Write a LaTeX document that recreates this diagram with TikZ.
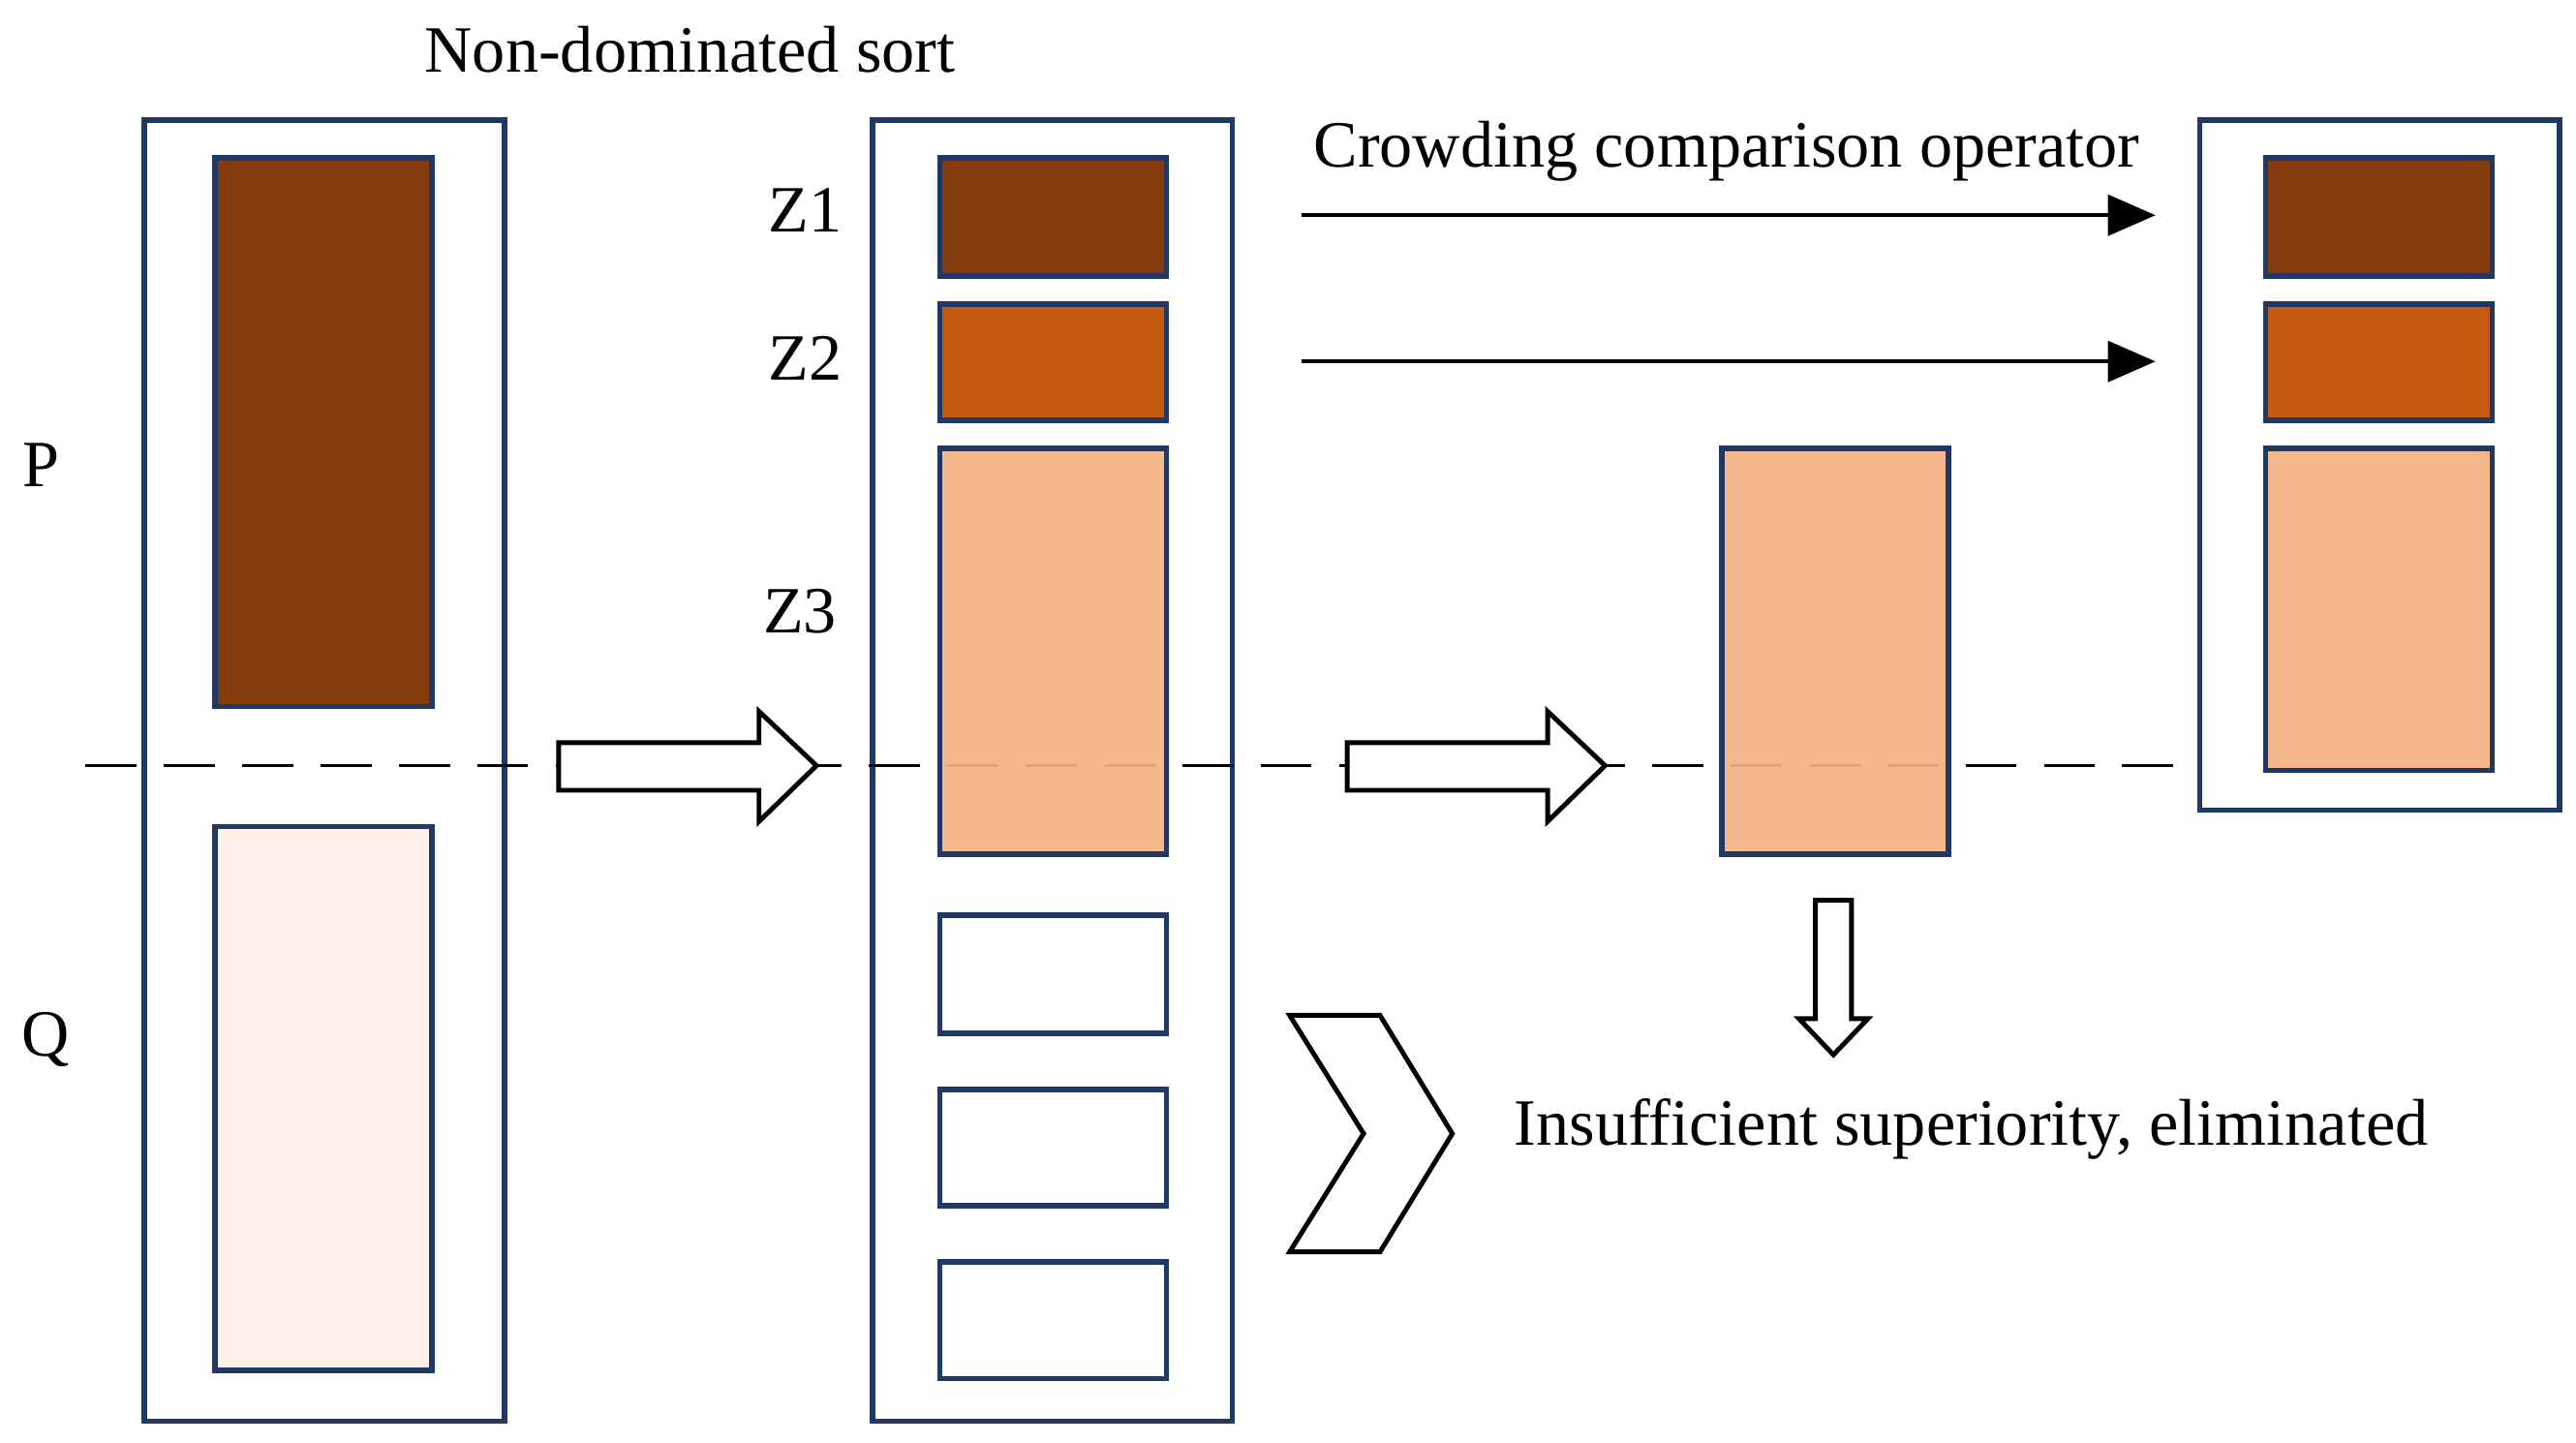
\documentclass[tikz,border=0pt]{standalone}
\usepackage{fontspec}
\setmainfont{Liberation Serif}
\usetikzlibrary{calc,arrows.meta}
\definecolor{navy}{HTML}{203864}
\definecolor{zdark}{HTML}{843C0C}
\definecolor{zmid}{HTML}{C55A11}
\definecolor{zlight}{HTML}{F4B183}
\definecolor{zpale}{HTML}{FDF0E8}
\tikzset{
  box/.style={draw=navy, line width=1.6pt},
  lbl/.style={font=\fontsize{19.4}{22}\selectfont, inner sep=0pt},
  blk/.style={draw=black, fill=white, line width=1.4pt, line join=miter},
}
\begin{document}
\begin{tikzpicture}[x=0.01696cm,y=-0.01696cm]
\useasboundingbox (0,0) rectangle (1568,878);
% outer boxes
\draw[box] (88,73) rectangle (307,865);
\draw[box] (531,73) rectangle (750,865);
\draw[box, fill=white] (1339,73) rectangle (1558,493);
% dashed divider
\draw[dashed, dash pattern=on 15pt off 8pt, line width=0.9pt] (52,466) -- (1339,466);
% population blocks
\draw[box, fill=zdark] (131,96) rectangle (263,430);
\draw[box, fill=zpale] (131,503) rectangle (263,834);
\draw[box, fill=zdark] (572,96) rectangle (710,168);
\draw[box, fill=zmid] (572,185) rectangle (710,256);
\draw[box, fill=zlight, fill opacity=0.93] (572,273) rectangle (710,520);
\draw[box] (572,557) rectangle (710,629);
\draw[box] (572,663) rectangle (710,734);
\draw[box] (572,768) rectangle (710,839);
\draw[box, fill=zlight, fill opacity=0.93] (1048,273) rectangle (1186,520);
\draw[box, fill=zdark] (1379,96) rectangle (1517,168);
\draw[box, fill=zmid] (1379,185) rectangle (1517,256);
\draw[box, fill=zlight, fill opacity=0.93] (1379,273) rectangle (1517,469);
% block arrows
\foreach \x in {340,820}
  \draw[blk] (\x,452) -- (\x+122,452) -- (\x+122,433) -- (\x+157,466) -- (\x+122,500) -- (\x+122,481) -- (\x,481) -- cycle;
\draw[blk] (1105,548) -- (1127,548) -- (1127,620) -- (1137,620) -- (1116,642) -- (1095,620) -- (1105,620) -- cycle;
\draw[blk] (785,618) -- (840,618) -- (884,690) -- (840,762) -- (785,762) -- (830,690) -- cycle;
% thin arrows
\coordinate (a1) at (792,131); \coordinate (b1) at (1312,131);
\coordinate (a2) at (792,220); \coordinate (b2) at (1312,220);
\draw[-{Triangle[length=14pt,width=12pt]}, line width=1pt] (a1) -- (b1);
\draw[-{Triangle[length=14pt,width=12pt]}, line width=1pt] (a2) -- (b2);
% labels
\node[lbl] (sort) at (420,30) {Non-dominated sort};
\node[lbl] (crowd) at (1051,92) {Crowding comparison operator};
\node[lbl] (z1) at (490,128) {Z1};
\node[lbl] (z2) at (490,218) {Z2};
\node[lbl] (z3) at (487,372) {Z3};
\node[lbl] (p) at (25,283) {P};
\node[lbl] (q) at (28,633) {Q};
\node[lbl] (elim) at (1200,687) {Insufficient superiority, eliminated};
\end{tikzpicture}
\end{document}
